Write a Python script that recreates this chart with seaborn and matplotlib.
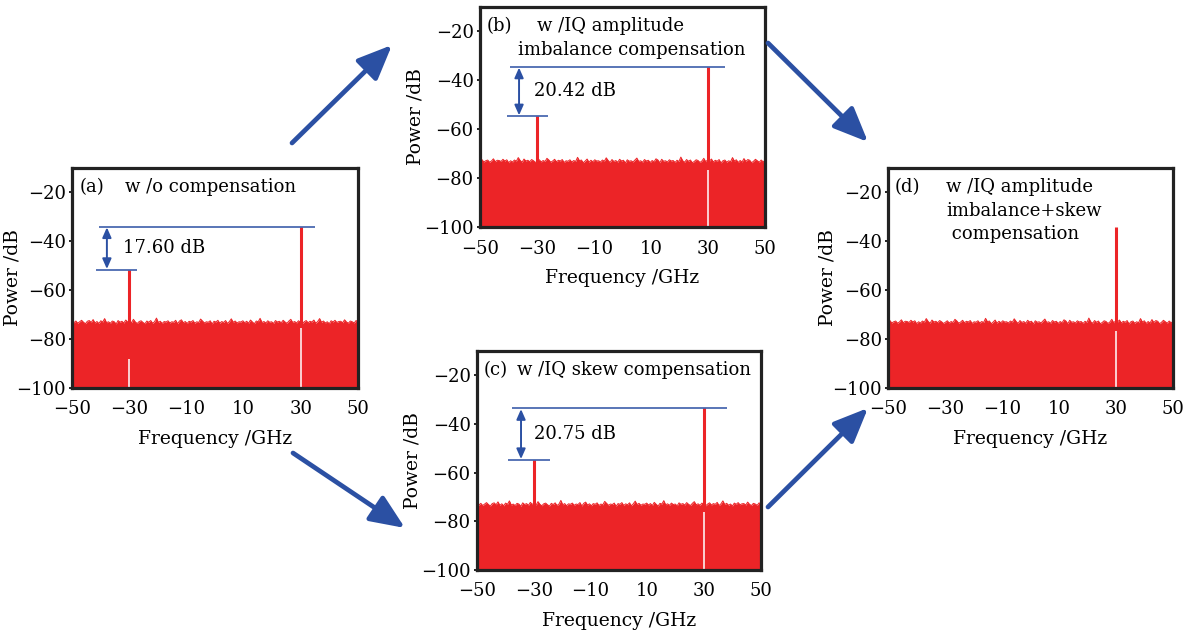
import numpy as np
import matplotlib.pyplot as plt
import seaborn as sns
from matplotlib.patches import FancyArrowPatch

# noise floor envelope (dB), read across -50..50 GHz
noise_floor = [
    -72.8, -73.3, -72.6, -73.5, -72.9, -72.3, -73.1, -73.7, -72.7, -72.4,
    -73.2, -72.0, -73.4, -72.8, -73.6, -72.5, -73.0, -71.6, -73.3, -72.9,
    -73.5, -72.6, -72.9, -73.8, -72.4, -73.1, -72.7, -73.4, -72.2, -73.0,
    -72.6, -73.3, -71.9, -73.0, -73.6, -72.8, -72.5, -73.2, -73.7, -72.6,
    -73.1, -72.4, -73.5, -72.9, -71.4, -73.2, -72.7, -73.6, -72.8, -73.0,
    -72.5, -73.4, -72.9, -73.1, -72.3, -73.7, -72.6, -72.1, -73.3, -72.8,
    -73.6, -72.7, -73.0, -72.4, -73.5, -72.9, -73.2, -71.8, -72.6, -73.4,
    -72.9, -73.1, -72.5, -73.8, -72.7, -73.0, -72.3, -73.5, -72.8, -73.2,
    -72.4, -73.6, -72.8, -71.7, -73.1, -72.6, -73.4, -72.9, -73.0, -72.5,
    -73.3, -72.7, -73.5, -72.2, -73.0, -73.7, -72.6, -72.9, -71.5, -73.2,
    -72.8, -73.4, -72.5, -73.1, -72.9, -73.6, -72.4, -73.0, -72.7, -73.3,
    -72.3, -73.0, -73.5, -72.6, -71.9, -73.2, -72.8, -73.4, -72.5, -73.1,
    -73.6, -72.9, -72.4, -73.3, -72.7, -73.0, -72.2, -73.5, -72.8, -71.6,
    -73.1, -72.6, -73.4, -72.9, -73.7, -72.5, -73.0, -72.3, -73.2, -72.8,
    -72.7, -73.3, -72.1, -73.0, -73.5, -72.6, -72.9, -73.4, -72.4, -73.0,
]

panel_tags = ["(a)", "(b)", "(c)", "(d)"]
panel_titles = [
    ["w /o compensation"],
    ["w /IQ amplitude", "imbalance compensation"],
    ["w /IQ skew compensation"],
    ["w /IQ amplitude", "imbalance+skew", " compensation"],
]
peak_freqs = [[-30, 30], [-30, 30], [-30, 30], [30]]
peak_powers = [[-51.6, -34.0], [-54.6, -34.5], [-54.7, -33.6], [-34.2]]
notch_freqs = [[30, -30], [30], [30], [30]]
notch_tops = [[-75.5, -88.0], [-76.5], [-76.0], [-76.5]]
suppression = ["17.60 dB", "20.42 dB", "20.75 dB", None]

xticks = [-50, -30, -10, 10, 30, 50]
yticks = [-100, -80, -60, -40, -20]

# layout (figure pixels: left, top, right, bottom)
W, H = 1192, 630
boxes = [(72, 168, 358, 388), (480, 7, 765, 227), (477, 351, 761, 570), (888, 168, 1173, 388)]
ylabel_x = [-0.178, -0.193, -0.194, -0.179]
title_x = [[-31.5], [-30.0, -36.5], [-35.8], [-29.5, -29.5, -29.5]]
big_arrows = [((292, 143), (392, 45)), ((768, 43), (868, 142)),
              ((293, 453), (405, 528)), ((768, 507), (868, 408))]
# annotation geometry (data units)
ann_top = [(-40.6, 35.0), (-39.5, 36.0), (-37.7, 38.0)]
ann_bot = [(-41.6, -27.3), (-40.5, -26.1), (-39.0, -24.3)]
ann_x = [-37.8, -36.3, -34.5]
ann_text_x = [-32.0, -31.0, -30.0]

RED = "#ec2427"
BLUE = "#2b50a3"

sns.set_theme(style="ticks")
plt.rcParams["font.family"] = ["DejaVu Serif"]
plt.rcParams["axes.unicode_minus"] = True
for key in ["text.color", "axes.labelcolor", "xtick.color", "ytick.color"]:
    plt.rcParams[key] = "black"

fig = plt.figure(figsize=(W / 100, H / 100), dpi=100)
freq = np.linspace(-50, 50, len(noise_floor))

for i in range(4):
    l, t, r, b = boxes[i]
    ax = fig.add_axes([l / W, 1 - b / H, (r - l) / W, (b - t) / H])
    nf = noise_floor if i % 2 == 0 else noise_floor[::-1]
    ax.fill_between(freq, -100, nf, color=RED, lw=0, zorder=1)
    sns.lineplot(x=freq, y=nf, ax=ax, color=RED, lw=0.7, zorder=2)
    ax.vlines(peak_freqs[i], -100, peak_powers[i], color=RED, lw=2.2, zorder=3)
    ax.vlines(notch_freqs[i], -100, notch_tops[i], color="white", lw=1.1, zorder=4)

    ax.set_xlim(-50, 50)
    ax.set_ylim(-100, -10)
    ax.set_xticks(xticks)
    ax.set_yticks(yticks)
    ax.tick_params(axis="x", direction="in", length=4, width=1.3, color="#111",
                   labelsize=13, pad=9)
    ax.tick_params(axis="y", direction="out", length=2.5, width=1.3, color="#111",
                   labelsize=13, pad=2)
    for s in ax.spines.values():
        s.set_linewidth(2.3)
        s.set_color("#222")
        s.set_zorder(6)
    ax.set_xlabel("Frequency /GHz", fontsize=13.5, labelpad=8)
    ax.set_ylabel("Power /dB", fontsize=13.5)
    ax.yaxis.set_label_coords(ylabel_x[i], 0.5)

    ax.text(-47.5, -17.8, panel_tags[i], fontsize=13, va="center", ha="left")
    for k, line in enumerate(panel_titles[i]):
        ax.text(title_x[i][k], -17.8 - 9.6 * k, line, fontsize=13, va="center", ha="left")

    if suppression[i] is not None:
        main_p = max(peak_powers[i])
        img_p = min(peak_powers[i])
        ax.hlines(main_p, *ann_top[i], color=BLUE, lw=1.1, zorder=5)
        ax.hlines(img_p, *ann_bot[i], color=BLUE, lw=1.1, zorder=5)
        ax.annotate("", xy=(ann_x[i], main_p), xytext=(ann_x[i], img_p),
                    arrowprops=dict(arrowstyle="<|-|>,head_length=0.5,head_width=0.22",
                                    color=BLUE, lw=1.4, shrinkA=0.5, shrinkB=0.5,
                                    mutation_scale=12))
        ax.text(ann_text_x[i], (main_p + img_p) / 2, suppression[i], fontsize=13,
                va="center", ha="left")

for (x0, y0), (x1, y1) in big_arrows:
    arr = FancyArrowPatch((x0 / W, 1 - y0 / H), (x1 / W, 1 - y1 / H),
                          transform=fig.transFigure,
                          arrowstyle="-|>,head_length=0.75,head_width=0.32",
                          mutation_scale=28, lw=3.4, color=BLUE,
                          shrinkA=0, shrinkB=0, capstyle="round")
    fig.add_artist(arr)

fig.savefig("out.png", dpi=100)
